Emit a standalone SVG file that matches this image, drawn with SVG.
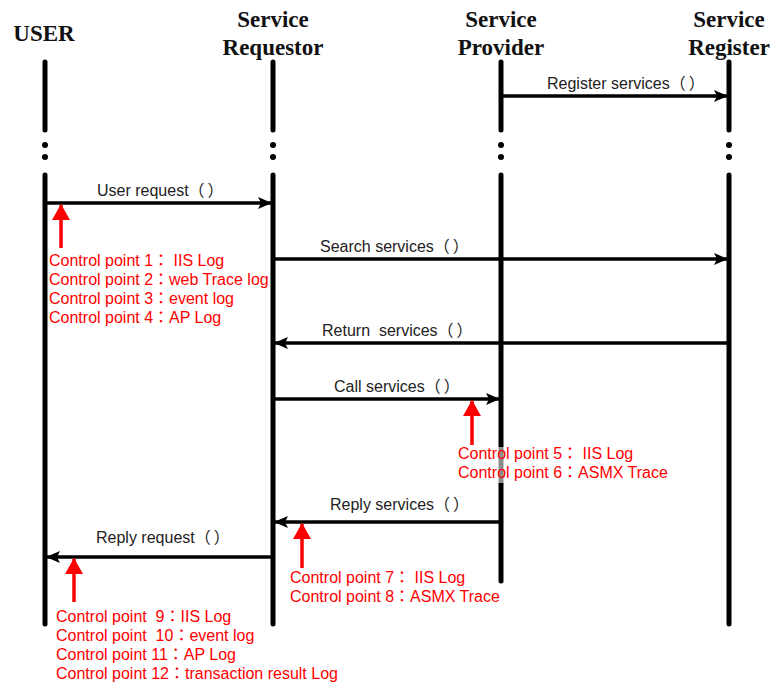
<svg xmlns="http://www.w3.org/2000/svg" width="773" height="684" viewBox="0 0 773 684">
  <style>
    .head { font-family: "Liberation Serif", "Times New Roman", serif; font-weight: bold; font-size: 23px; fill: #111; text-anchor: middle; }
    .life { stroke: #000; stroke-width: 5; stroke-linecap: round; fill: none; }
    .dot { fill: #000; }
    .msg { stroke: #000; stroke-width: 3.5; fill: none; }
    .lbl { font-family: "Liberation Sans", Arial, "Noto Sans CJK TC", sans-serif; font-size: 16px; fill: #222; white-space: pre; }
    .cp { font-family: "Liberation Sans", Arial, "Noto Sans CJK TC", sans-serif; font-size: 16px; fill: #ff0000; white-space: pre; }
    .cparrow { stroke: #ff0000; stroke-width: 3.5; fill: none; }
  </style>
  <defs>
    <marker id="arrow" markerUnits="userSpaceOnUse" viewBox="0 0 14 12" refX="13" refY="6" markerWidth="14" markerHeight="12" orient="auto">
      <path d="M0,0 L14,6 L0,12 L3,6 Z" fill="#000"/>
    </marker>
    <marker id="redarrow" markerUnits="userSpaceOnUse" viewBox="0 0 16 18" refX="15" refY="9" markerWidth="16" markerHeight="18" orient="auto">
      <path d="M0,0 L16,9 L0,18 Z" fill="#ff0000"/>
    </marker>
  </defs>

  <rect width="773" height="684" fill="#fff"/>

  <!-- lifelines -->
  <g id="user">
    <text class="head" x="44" y="41">USER</text>
    <line class="life" x1="45" y1="62" x2="45" y2="130"/>
    <circle class="dot" cx="45" cy="145" r="3"/>
    <circle class="dot" cx="45" cy="157" r="3"/>
    <line class="life" x1="45" y1="175" x2="45" y2="624"/>
  </g>
  <g id="service-requestor">
    <text class="head" x="273" y="27">Service</text>
    <text class="head" x="273" y="55">Requestor</text>
    <line class="life" x1="273" y1="62" x2="273" y2="130"/>
    <circle class="dot" cx="273" cy="145" r="3"/>
    <circle class="dot" cx="273" cy="157" r="3"/>
    <line class="life" x1="273" y1="175" x2="273" y2="624"/>
  </g>
  <g id="service-provider">
    <text class="head" x="501" y="27">Service</text>
    <text class="head" x="501" y="55">Provider</text>
    <line class="life" x1="501" y1="62" x2="501" y2="130"/>
    <circle class="dot" cx="501" cy="145" r="3"/>
    <circle class="dot" cx="501" cy="157" r="3"/>
    <line class="life" x1="501" y1="175" x2="501" y2="581"/>
  </g>
  <g id="service-register">
    <text class="head" x="729" y="27">Service</text>
    <text class="head" x="729" y="55">Register</text>
    <line class="life" x1="729" y1="62" x2="729" y2="130"/>
    <circle class="dot" cx="729" cy="145" r="3"/>
    <circle class="dot" cx="729" cy="157" r="3"/>
    <line class="life" x1="729" y1="175" x2="729" y2="624"/>
  </g>

  <!-- messages; the closing full-width bracket is nudged right with dx -->
  <g id="connectors">
    <line class="msg" x1="501" y1="96" x2="727" y2="96" marker-end="url(#arrow)"/>
    <text class="lbl" x="547" y="89">Register services（<tspan dx="3">）</tspan></text>

    <line class="msg" x1="45" y1="203" x2="271" y2="203" marker-end="url(#arrow)"/>
    <text class="lbl" x="97" y="196">User request（<tspan dx="3">）</tspan></text>

    <line class="msg" x1="273" y1="259" x2="727" y2="259" marker-end="url(#arrow)"/>
    <text class="lbl" x="320" y="252">Search services（<tspan dx="3">）</tspan></text>

    <line class="msg" x1="729" y1="343" x2="275" y2="343" marker-end="url(#arrow)"/>
    <text class="lbl" x="322" y="336">Return  services（<tspan dx="3">）</tspan></text>

    <line class="msg" x1="273" y1="399" x2="499" y2="399" marker-end="url(#arrow)"/>
    <text class="lbl" x="334" y="392">Call services（<tspan dx="3">）</tspan></text>

    <line class="msg" x1="501" y1="522" x2="275" y2="522" marker-end="url(#arrow)"/>
    <text class="lbl" x="330" y="510">Reply services（<tspan dx="3">）</tspan></text>

    <line class="msg" x1="273" y1="557" x2="47" y2="557" marker-end="url(#arrow)"/>
    <text class="lbl" x="96" y="543">Reply request（<tspan dx="3">）</tspan></text>

    <!-- control point pointers -->
    <line class="cparrow" x1="61" y1="248" x2="61" y2="205" marker-end="url(#redarrow)"/>
    <line class="cparrow" x1="472" y1="445" x2="472" y2="401" marker-end="url(#redarrow)"/>
    <line class="cparrow" x1="302" y1="568" x2="302" y2="524" marker-end="url(#redarrow)"/>
    <line class="cparrow" x1="74" y1="602" x2="74" y2="559" marker-end="url(#redarrow)"/>
  </g>

  <!-- control point notes -->
  <g id="cp-1-4">
    <text class="cp" x="49" y="266">Control point 1： IIS Log</text>
    <text class="cp" x="49" y="285">Control point 2：web Trace log</text>
    <text class="cp" x="49" y="304">Control point 3：event log</text>
    <text class="cp" x="49" y="323">Control point 4：AP Log</text>
  </g>
  <g id="cp-5-6">
    <rect x="457" y="447" width="213" height="36" fill="#fff" fill-opacity="0.55"/>
    <text class="cp" x="458" y="459">Control point 5： IIS Log</text>
    <text class="cp" x="458" y="478">Control point 6：ASMX Trace</text>
  </g>
  <g id="cp-7-8">
    <text class="cp" x="290" y="583">Control point 7： IIS Log</text>
    <text class="cp" x="290" y="602">Control point 8：ASMX Trace</text>
  </g>
  <g id="cp-9-12">
    <text class="cp" x="56" y="622">Control point  9：IIS Log</text>
    <text class="cp" x="56" y="641">Control point  10：event log</text>
    <text class="cp" x="56" y="660">Control point 11：AP Log</text>
    <text class="cp" x="56" y="679">Control point 12：transaction result Log</text>
  </g>
</svg>
